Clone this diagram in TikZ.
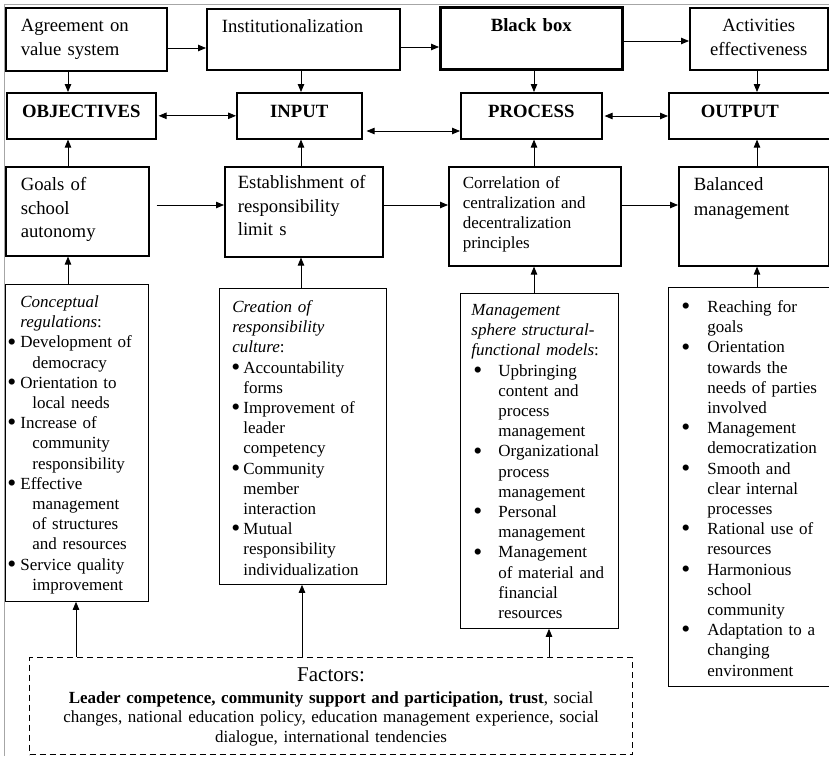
\documentclass[tikz,border=0pt]{standalone}
\usepackage{fontspec}
\setmainfont{Liberation Serif}
\usetikzlibrary{arrows.meta}
\newcommand{\itembul}[1]{\makebox[#1][l]{\hspace*{-1pt}\raisebox{-0.13em}{\scalebox{1.5}{\textbullet}}}}

\begin{document}
\begin{tikzpicture}[x=1pt, y=-1pt,
    topbox/.style={draw, line width=1.6pt, anchor=north west, align=left,
        inner xsep=15pt, inner ysep=0pt, text height=24pt,
        font=\fontsize{18.7}{23.5}\selectfont},
    headbox/.style={topbox, align=center, text height=25pt,
        font=\bfseries\fontsize{18.7}{23}\selectfont},
    listbox/.style={draw, line width=0.8pt, anchor=north west, align=left,
        inner ysep=0pt, font=\fontsize{17}{20.2}\selectfont},
    arr/.style={-{Triangle[length=8pt,width=6.5pt]}, line width=0.8pt},
    darr/.style={{Triangle[length=8pt,width=6.5pt]}-{Triangle[length=8pt,width=6.5pt]}, line width=0.8pt}]
        \useasboundingbox (0,0) rectangle (829,756);
        \clip (0,0) rectangle (829,756);
        \draw[black!35, line width=1pt] (4,756) -- (4,4) -- (829,4);

        \node[topbox, text width=131pt, text depth=39pt] (agree) at (5,7)
            {Agreement on\\ value system};
        \node[topbox, text width=163pt, text depth=37pt] (inst) at (206,8)
            {Institutionalization};
        \node[topbox, line width=2.6pt, align=center, text width=152pt, text depth=38pt,
            font=\bfseries\fontsize{18.7}{23}\selectfont] (bbox) at (439,6) {Black box};
        \node[topbox, align=center, inner xsep=5pt, text width=128pt, text height=24pt,
            text depth=38pt] (activ) at (689,7) {Activities\\ effectiveness};

        \node[headbox, text width=119pt, text depth=21pt] (objectives) at (6,92) {OBJECTIVES};
        \node[headbox, text width=95pt, text depth=21pt] (input) at (236,92) {INPUT};
        \node[headbox, text width=111pt, text depth=21pt] (process) at (460,92) {PROCESS};
        \node[headbox, align=left, inner xsep=32pt, text width=106pt, text depth=21pt]
            (output) at (668,92) {OUTPUT};

        \node[topbox, text width=113pt, text depth=65pt] (goals) at (5,166)
            {Goals of\\ school\\ autonomy};
        \node[topbox, inner xsep=13pt, text width=132pt, text height=22pt, text depth=68pt]
            (estab) at (224,166) {Establishment of\\ responsibility\\ limit s};
        \node[topbox, inner xsep=14pt, text width=144pt, text height=22pt, text depth=77pt,
            font=\fontsize{17}{20}\selectfont] (correl) at (448,166)
            {Correlation of\\ centralization and\\ decentralization\\ principles};
        \node[topbox, text width=120pt, text depth=75pt] (balanced) at (678,166)
            {Balanced\\[1.5pt] management};

        \node[listbox, inner xsep=3pt, text width=137pt, text height=23pt, text depth=294pt]
            (concept) at (5,284) {%
            \hspace*{12pt}\textit{Conceptual}\\
            \hspace*{12pt}\textit{regulations}:\\
            \itembul{12pt}Development of\\
            \hspace*{24pt}democracy\\
            \itembul{12pt}Orientation to\\
            \hspace*{24pt}local needs\\
            \itembul{12pt}Increase of\\
            \hspace*{24pt}community\\
            \hspace*{24pt}responsibility\\
            \itembul{12pt}Effective\\
            \hspace*{24pt}management\\
            \hspace*{24pt}of structures\\
            \hspace*{24pt}and resources\\
            \itembul{12pt}Service quality\\
            \hspace*{24pt}improvement};
        \node[listbox, inner xsep=13pt, text width=141pt, text height=24pt, text depth=272pt]
            (creation) at (219,288) {%
            \textit{Creation of}\\
            \textit{responsibility}\\
            \textit{culture}:\\
            \itembul{11pt}Accountability\\
            \hspace*{11pt}forms\\
            \itembul{11pt}Improvement of\\
            \hspace*{11pt}leader\\
            \hspace*{11pt}competency\\
            \itembul{11pt}Community\\
            \hspace*{11pt}member\\
            \hspace*{11pt}interaction\\
            \itembul{11pt}Mutual\\
            \hspace*{11pt}responsibility\\
            \hspace*{11pt}individualization};
        \node[listbox, inner xsep=11pt, text width=136pt, text height=22pt, text depth=313pt]
            (manage) at (460,293) {%
            \textit{Management}\\
            \textit{sphere structural-}\\
            \textit{functional models}:\\
            \hspace*{3pt}\itembul{24pt}Upbringing\\
            \hspace*{27pt}content and\\
            \hspace*{27pt}process\\
            \hspace*{27pt}management\\
            \hspace*{3pt}\itembul{24pt}Organizational\\
            \hspace*{27pt}process\\
            \hspace*{27pt}management\\
            \hspace*{3pt}\itembul{24pt}Personal\\
            \hspace*{27pt}management\\
            \hspace*{3pt}\itembul{24pt}Management\\
            \hspace*{27pt}of material and\\
            \hspace*{27pt}financial\\
            \hspace*{27pt}resources};
        \node[listbox, inner xsep=14pt, text width=140pt, text height=25pt, text depth=374pt]
            (reach) at (668,287) {%
            \itembul{25pt}Reaching for\\
            \hspace*{25pt}goals\\
            \itembul{25pt}Orientation\\
            \hspace*{25pt}towards the\\
            \hspace*{25pt}needs of parties\\
            \hspace*{25pt}involved\\
            \itembul{25pt}Management\\
            \hspace*{25pt}democratization\\
            \itembul{25pt}Smooth and\\
            \hspace*{25pt}clear internal\\
            \hspace*{25pt}processes\\
            \itembul{25pt}Rational use of\\
            \hspace*{25pt}resources\\
            \itembul{25pt}Harmonious\\
            \hspace*{25pt}school\\
            \hspace*{25pt}community\\
            \itembul{25pt}Adaptation to a\\
            \hspace*{25pt}changing\\
            \hspace*{25pt}environment};

        \node[draw, dashed, dash pattern=on 6pt off 4pt, line width=1.1pt, anchor=north west,
            align=center, inner xsep=10pt, inner ysep=0pt, text width=583pt,
            text height=24pt, text depth=73pt, font=\fontsize{17}{19.5}\selectfont]
            (factors) at (29,657) {%
            {\fontsize{21}{22}\selectfont Factors:}\\[2pt]
            \textbf{Leader competence, community support and participation, trust}, social\\
            changes, national education policy, education management experience, social\\
            dialogue, international tendencies};

        \coordinate (c1) at (68,0);
        \coordinate (c2) at (301,0);
        \coordinate (c3) at (534,0);
        \coordinate (c4) at (757,0);
        \coordinate (f1) at (76,0);
        \coordinate (f2) at (302,0);
        \coordinate (f3) at (549,0);

        \draw[arr] (agree.east |- 0,48) -- (inst.west |- 0,48);
        \draw[arr] (inst.east |- 0,47) -- (bbox.west |- 0,47);
        \draw[arr] (bbox.east |- 0,41) -- (activ.west |- 0,41);

        \draw[arr] (agree.south -| c1) -- (objectives.north -| c1);
        \draw[arr] (inst.south -| c2) -- (input.north -| c2);
        \draw[arr] (bbox.south -| c3) -- (process.north -| c3);
        \draw[arr] (activ.south -| c4) -- (output.north -| c4);

        \draw[darr, shorten <=2pt] (objectives.east) -- (input.west);
        \draw[darr, shorten <=4pt] (input.east |- 0,131) -- (process.west |- 0,131);
        \draw[darr, shorten <=2pt] (process.east |- 0,116) -- (output.west |- 0,116);

        \draw[arr] (goals.north -| c1) -- (objectives.south -| c1);
        \draw[arr] (estab.north -| c2) -- (input.south -| c2);
        \draw[arr] (correl.north -| c3) -- (process.south -| c3);
        \draw[arr] (balanced.north -| c4) -- (output.south -| c4);

        \draw[arr, shorten <=7pt] (goals.east |- 0,205) -- (estab.west |- 0,205);
        \draw[arr] (estab.east |- 0,205) -- (correl.west |- 0,205);
        \draw[arr] (correl.east |- 0,205) -- (balanced.west |- 0,205);

        \draw[arr] (concept.north -| c1) -- (goals.south -| c1);
        \draw[arr] (creation.north -| c2) -- (estab.south -| c2);
        \draw[arr] (manage.north -| c3) -- (correl.south -| c3);
        \draw[arr] (reach.north -| c4) -- (balanced.south -| c4);

        \draw[arr] (factors.north -| f1) -- (concept.south -| f1);
        \draw[arr] (factors.north -| f2) -- (creation.south -| f2);
        \draw[arr] (factors.north -| f3) -- (manage.south -| f3);
    \end{tikzpicture}
\end{document}
